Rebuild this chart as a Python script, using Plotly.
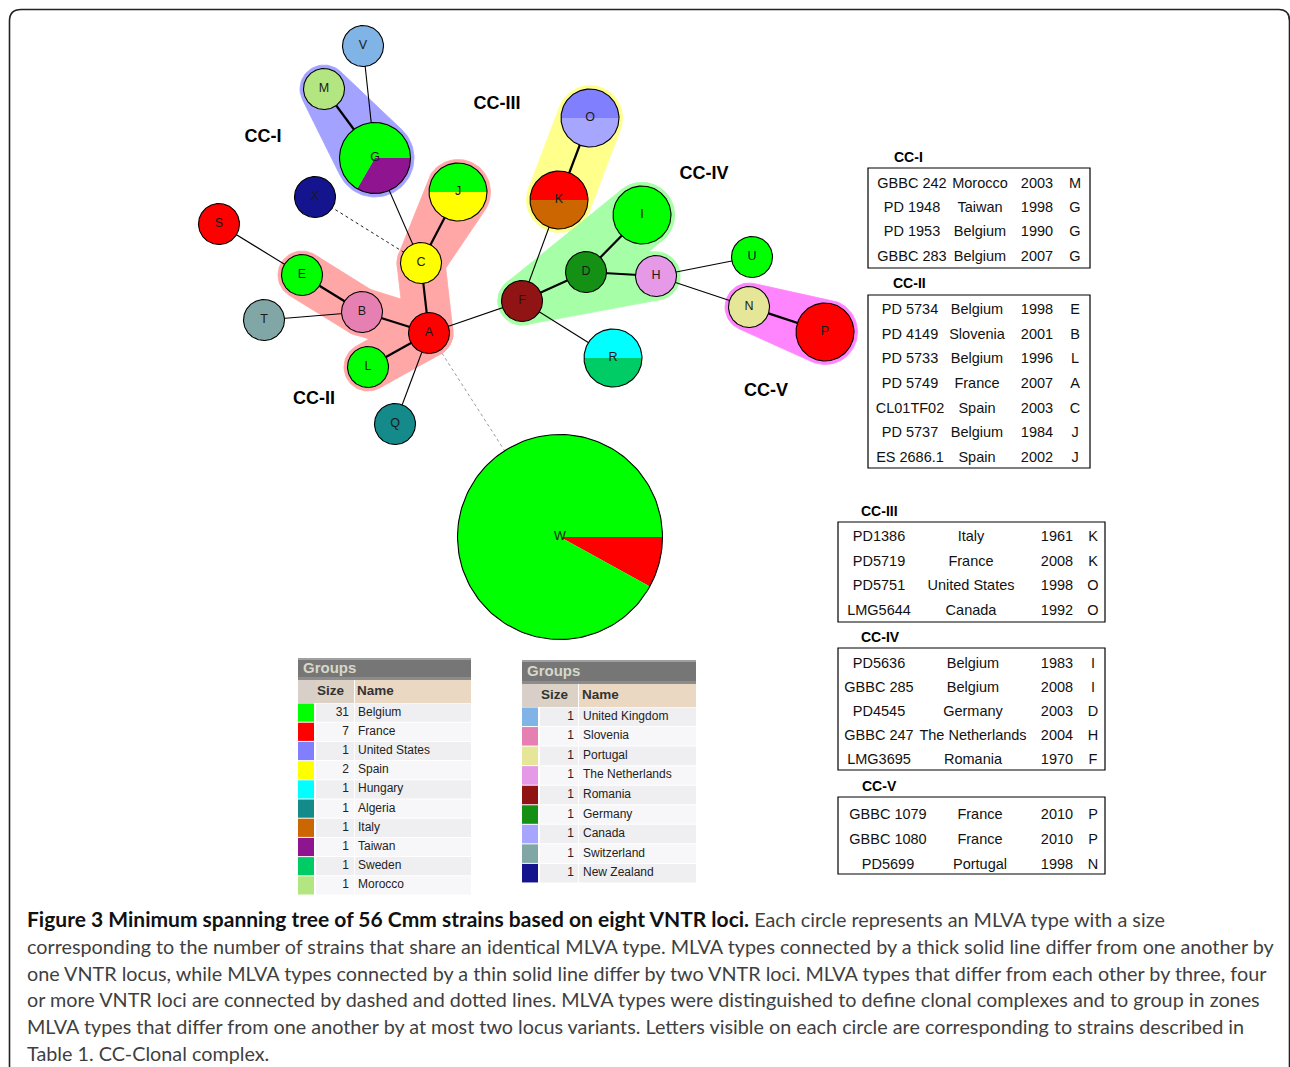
import math
import plotly.graph_objects as go

# ---------------- data ----------------
node_names = ["V", "M", "G", "X", "S", "J", "C", "E", "B", "T", "A", "L", "Q",
              "F", "K", "O", "I", "D", "H", "U", "N", "P", "R", "W"]
node_layout_x = [363, 324, 375, 315, 219, 458, 421, 302, 362, 264, 429, 368, 395,
                 522, 559, 590, 642, 586, 656, 752, 749, 825, 613, 560]
node_layout_y = [46, 89, 158, 197, 224, 192, 263, 275, 312, 320, 333, 367, 424,
                 301, 200, 118, 215, 272, 276, 257, 307, 332, 358, 537]

slice_node = ["V", "M", "G", "G", "X", "S", "J", "J", "C", "E", "B", "T", "A", "L", "Q",
              "F", "K", "K", "O", "O", "I", "D", "H", "U", "N", "P", "R", "R", "W", "W"]
slice_country = ["United Kingdom", "Morocco", "Taiwan", "Belgium", "New Zealand", "France",
                 "Spain", "Belgium", "Spain", "Belgium", "Slovenia", "Switzerland", "France",
                 "Belgium", "Algeria", "Romania", "Italy", "France", "Canada", "United States",
                 "Belgium", "Germany", "The Netherlands", "Belgium", "Portugal", "France",
                 "Sweden", "Hungary", "France", "Belgium"]
slice_count = [1, 1, 1, 2, 1, 1, 1, 1, 1, 1, 1, 1, 1, 1, 1,
               1, 1, 1, 1, 1, 2, 1, 1, 1, 1, 2, 1, 1, 2, 23]

edge_from = ["V", "M", "G", "X", "J", "C", "S", "E", "T", "B", "L", "Q",
             "A", "A", "F", "K", "F", "D", "D", "F", "H", "H", "N"]
edge_to = ["G", "G", "C", "C", "C", "A", "E", "B", "B", "A", "A", "A",
           "F", "W", "K", "O", "D", "I", "H", "R", "U", "N", "P"]
edge_diff = [2, 1, 2, 3, 1, 1, 2, 1, 2, 1, 1, 2,
             2, 4, 2, 1, 1, 1, 1, 2, 2, 2, 1]

cc_names = ["CC-I", "CC-II", "CC-III", "CC-IV", "CC-V"]
halo_from = ["M", "J", "C", "E", "B", "L", "K", "F", "D", "D", "F", "F", "N"]
halo_to = ["G", "C", "A", "B", "A", "A", "O", "D", "I", "H", "I", "H", "P"]
halo_cc = ["CC-I", "CC-II", "CC-II", "CC-II", "CC-II", "CC-II", "CC-III",
           "CC-IV", "CC-IV", "CC-IV", "CC-IV", "CC-IV", "CC-V"]

strain_id = ["GBBC 242", "PD 1948", "PD 1953", "GBBC 283",
             "PD 5734", "PD 4149", "PD 5733", "PD 5749", "CL01TF02", "PD 5737", "ES 2686.1",
             "PD1386", "PD5719", "PD5751", "LMG5644",
             "PD5636", "GBBC 285", "PD4545", "GBBC 247", "LMG3695",
             "GBBC 1079", "GBBC 1080", "PD5699"]
strain_country = ["Morocco", "Taiwan", "Belgium", "Belgium",
                  "Belgium", "Slovenia", "Belgium", "France", "Spain", "Belgium", "Spain",
                  "Italy", "France", "United States", "Canada",
                  "Belgium", "Belgium", "Germany", "The Netherlands", "Romania",
                  "France", "France", "Portugal"]
strain_year = [2003, 1998, 1990, 2007,
               1998, 2001, 1996, 2007, 2003, 1984, 2002,
               1961, 2008, 1998, 1992,
               1983, 2008, 2003, 2004, 1970,
               2010, 2010, 1998]
strain_letter = ["M", "G", "G", "G",
                 "E", "B", "L", "A", "C", "J", "J",
                 "K", "K", "O", "O",
                 "I", "I", "D", "H", "F",
                 "P", "P", "N"]
strain_cc = ["CC-I"] * 4 + ["CC-II"] * 7 + ["CC-III"] * 4 + ["CC-IV"] * 5 + ["CC-V"] * 3

legend_left_names = ["Belgium", "France", "United States", "Spain", "Hungary",
                     "Algeria", "Italy", "Taiwan", "Sweden", "Morocco"]
legend_left_sizes = [31, 7, 1, 2, 1, 1, 1, 1, 1, 1]
legend_right_names = ["United Kingdom", "Slovenia", "Portugal", "The Netherlands", "Romania",
                      "Germany", "Canada", "Switzerland", "New Zealand"]
legend_right_sizes = [1, 1, 1, 1, 1, 1, 1, 1, 1]

caption_title = "Figure 3 Minimum spanning tree of 56 Cmm strains based on eight VNTR loci."
caption_lines = [
    " Each circle represents an MLVA type with a size",
    "corresponding to the number of strains that share an identical MLVA type. MLVA types connected by a thick solid line differ from one another by",
    "one VNTR locus, while MLVA types connected by a thin solid line differ by two VNTR loci. MLVA types that differ from each other by three, four",
    "or more VNTR loci are connected by dashed and dotted lines. MLVA types were distinguished to define clonal complexes and to group in zones",
    "MLVA types that differ from one another by at most two locus variants. Letters visible on each circle are corresponding to strains described in",
    "Table 1. CC-Clonal complex.",
]

# ---------------- styles / layout ----------------
W, H = 1290, 1067
SANS = "Liberation Sans, Arial, Helvetica, sans-serif"
CAPTION_FONT = "Lato, Open Sans, sans-serif"

country_colors = {
    "Belgium": "#00ff00", "France": "#ff0000", "United States": "#8080ff", "Spain": "#ffff00",
    "Hungary": "#00ffff", "Algeria": "#148a8a", "Italy": "#cc6600", "Taiwan": "#8f1490",
    "Sweden": "#00cc66", "Morocco": "#b3e680", "United Kingdom": "#80b3e6",
    "Slovenia": "#e680b3", "Portugal": "#e6e699", "The Netherlands": "#e699e6",
    "Romania": "#901414", "Germany": "#149014", "Canada": "#a6a6ff",
    "Switzerland": "#80a6a6", "New Zealand": "#14148f",
}
halo_colors = {"CC-I": "#a3a3ff", "CC-II": "#ffa6a6", "CC-III": "#ffff8c",
               "CC-IV": "#a6ffa6", "CC-V": "#ff85ff"}
cc_label_pos = {"CC-I": (263, 137), "CC-II": (314, 399), "CC-III": (497, 104),
                "CC-IV": (704, 174), "CC-V": (766, 391)}
BASE_R = 20.5
HALO_PAD = 3.5

# table geometry: box, title pos, column centers, first row y, row step
table_geom = {
    "CC-I": dict(x0=868, x1=1090, y0=168, y1=268, tx=894, ty=158,
                 cols=[912, 980, 1037, 1075], r0=184, dr=24.3),
    "CC-II": dict(x0=868, x1=1090, y0=295, y1=468, tx=893, ty=284,
                  cols=[910, 977, 1037, 1075], r0=310.5, dr=24.6),
    "CC-III": dict(x0=838, x1=1105, y0=522, y1=622, tx=861, ty=512,
                   cols=[879, 971, 1057, 1093], r0=537.5, dr=24.6),
    "CC-IV": dict(x0=838, x1=1105, y0=648, y1=770, tx=861, ty=638,
                  cols=[879, 973, 1057, 1093], r0=664, dr=24.2),
    "CC-V": dict(x0=838, x1=1105, y0=797, y1=874, tx=862, ty=787,
                 cols=[888, 980, 1057, 1093], r0=815, dr=25),
}

legend_geom = [
    dict(names=legend_left_names, sizes=legend_left_sizes, x0=298, x1=471, ty0=658, ty1=680,
         hy1=703, rh=19.2, sw1=314, sx0=316, sx1=354, stx=349, ntx=358),
    dict(names=legend_right_names, sizes=legend_right_sizes, x0=522, x1=696, ty0=660, ty1=684,
         hy1=707, rh=19.55, sw1=538, sx0=540, sx1=578, stx=574, ntx=583),
]

# ---------------- helpers ----------------
pos = {n: (x, y) for n, x, y in zip(node_names, node_layout_x, node_layout_y)}
totals = {n: 0 for n in node_names}
for n, c in zip(slice_node, slice_count):
    totals[n] += c
radius = {n: BASE_R * math.sqrt(totals[n]) for n in node_names}


def arc(cx, cy, r, a0, a1, step=3.0):
    n = max(2, int(abs(a1 - a0) / step) + 1)
    pts = []
    for i in range(n + 1):
        a = math.radians(a0 + (a1 - a0) * i / n)
        pts.append((cx + r * math.cos(a), cy + r * math.sin(a)))
    return pts


def convex_hull(points):
    pts = sorted(set(points))
    if len(pts) <= 2:
        return pts

    def cross(o, a, b):
        return (a[0] - o[0]) * (b[1] - o[1]) - (a[1] - o[1]) * (b[0] - o[0])
    lower, upper = [], []
    for p in pts:
        while len(lower) >= 2 and cross(lower[-2], lower[-1], p) <= 0:
            lower.pop()
        lower.append(p)
    for p in reversed(pts):
        while len(upper) >= 2 and cross(upper[-2], upper[-1], p) <= 0:
            upper.pop()
        upper.append(p)
    return lower[:-1] + upper[:-1]


def rect(x0, x1, y0, y1, color, layer="below"):
    return dict(type="rect", xref="x", yref="y", x0=x0, x1=x1, y0=y0, y1=y1,
                line=dict(width=0), fillcolor=color, layer=layer)


fig = go.Figure()

# halos (clonal complex zones)
for a, b, cc in zip(halo_from, halo_to, halo_cc):
    pts = arc(*pos[a], radius[a] + HALO_PAD, 0, 360, 4) + arc(*pos[b], radius[b] + HALO_PAD, 0, 360, 4)
    hull = convex_hull([(round(x, 3), round(y, 3)) for x, y in pts])
    hull.append(hull[0])
    fig.add_trace(go.Scatter(x=[p[0] for p in hull], y=[p[1] for p in hull], mode="lines",
                             fill="toself", fillcolor=halo_colors[cc],
                             line=dict(width=0.8, color=halo_colors[cc]), hoverinfo="skip"))

# edges
edge_styles = {1: dict(color="#000000", width=2.2),
               2: dict(color="#000000", width=1.1),
               3: dict(color="#222222", width=1.0, dash="dot"),
               4: dict(color="#9a9a9a", width=1.0, dash="dot")}
for d, style in edge_styles.items():
    xs, ys = [], []
    for a, b, dd in zip(edge_from, edge_to, edge_diff):
        if dd == d:
            xs += [pos[a][0], pos[b][0], None]
            ys += [pos[a][1], pos[b][1], None]
    fig.add_trace(go.Scatter(x=xs, y=ys, mode="lines", line=style, hoverinfo="skip"))

# nodes as pies: slices clockwise from 3 o'clock
for n in node_names:
    cx, cy = pos[n]
    r = radius[n]
    start = 0.0
    for sn, sc, cnt in zip(slice_node, slice_country, slice_count):
        if sn != n:
            continue
        span = 360.0 * cnt / totals[n]
        pts = [(cx, cy)] + arc(cx, cy, r, start, start + span, 2) + [(cx, cy)]
        fig.add_trace(go.Scatter(x=[p[0] for p in pts], y=[p[1] for p in pts], mode="lines",
                                 fill="toself", fillcolor=country_colors[sc],
                                 line=dict(width=0), hoverinfo="skip"))
        start += span
    ring = arc(cx, cy, r, 0, 360, 2)
    fig.add_trace(go.Scatter(x=[p[0] for p in ring], y=[p[1] for p in ring], mode="lines",
                             line=dict(color="#000000", width=1.1), hoverinfo="skip"))

fig.add_trace(go.Scatter(x=node_layout_x, y=node_layout_y, mode="text", text=node_names,
                         textposition="middle center",
                         textfont=dict(family=SANS, size=12.5, color="#1a1a1a"), hoverinfo="skip"))

# clonal complex labels
fig.add_trace(go.Scatter(x=[cc_label_pos[c][0] for c in cc_names],
                         y=[cc_label_pos[c][1] for c in cc_names], mode="text",
                         text=["<b>%s</b>" % c for c in cc_names], textposition="middle center",
                         textfont=dict(family=SANS, size=18, color="#000000"), hoverinfo="skip"))

# strain tables
shapes = []
for cc in cc_names:
    g = table_geom[cc]
    shapes.append(dict(type="rect", xref="x", yref="y", x0=g["x0"], x1=g["x1"], y0=g["y0"],
                       y1=g["y1"], line=dict(color="#000000", width=1.2)))
    rows = [i for i, c in enumerate(strain_cc) if c == cc]
    tx, ty, tt = [], [], []
    for k, i in enumerate(rows):
        yy = g["r0"] + k * g["dr"]
        vals = [strain_id[i], strain_country[i], str(strain_year[i]), strain_letter[i]]
        for cx, v in zip(g["cols"], vals):
            tx.append(cx)
            ty.append(yy)
            tt.append(v)
    fig.add_trace(go.Scatter(x=tx, y=ty, text=tt, mode="text", textposition="middle center",
                             textfont=dict(family=SANS, size=14.5, color="#111111"),
                             hoverinfo="skip"))
    fig.add_trace(go.Scatter(x=[g["tx"]], y=[g["ty"]], text=["<b>%s</b>" % cc], mode="text",
                             textposition="middle right",
                             textfont=dict(family=SANS, size=14, color="#000000"),
                             hoverinfo="skip"))

# group legends (software screenshots)
for g in legend_geom:
    shapes.append(rect(g["x0"], g["x1"], g["ty0"], g["ty1"], "#767676"))
    shapes.append(rect(g["x0"], g["x1"], g["ty0"], g["ty0"] + 2, "#a0a0a0"))
    shapes.append(rect(g["x0"], g["x1"], g["ty1"] - 3, g["ty1"], "#8c8c8c"))
    shapes.append(rect(g["x0"], g["sx0"], g["ty1"], g["hy1"], "#d8d0c8"))
    shapes.append(rect(g["sx0"], g["sx1"], g["ty1"], g["hy1"], "#dcd1c5"))
    shapes.append(rect(g["sx1"] + 1, g["x1"], g["ty1"], g["hy1"], "#ead8c3"))
    lx, ly, lt, rx, ry, rt = [], [], [], [], [], []
    for i, (nm, sz) in enumerate(zip(g["names"], g["sizes"])):
        y0 = g["hy1"] + i * g["rh"]
        y1 = y0 + g["rh"]
        bg = "#efeff2" if i % 2 == 0 else "#f7f7f9"
        shapes.append(rect(g["x0"], g["sw1"], y0 + 0.5, y1 - 0.5, country_colors[nm]))
        shapes.append(rect(g["sx0"], g["sx1"], y0 + 0.5, y1 - 0.5, bg))
        shapes.append(rect(g["sx1"] + 1, g["x1"], y0 + 0.5, y1 - 0.5, bg))
        rx.append(g["stx"])
        ry.append((y0 + y1) / 2)
        rt.append(str(sz))
        lx.append(g["ntx"])
        ly.append((y0 + y1) / 2)
        lt.append(nm)
    fig.add_trace(go.Scatter(x=rx, y=ry, text=rt, mode="text", textposition="middle left",
                             textfont=dict(family=SANS, size=12, color="#222222"), hoverinfo="skip"))
    fig.add_trace(go.Scatter(x=lx, y=ly, text=lt, mode="text", textposition="middle right",
                             textfont=dict(family=SANS, size=12, color="#222222"), hoverinfo="skip"))
    hy = (g["ty1"] + g["hy1"]) / 2
    fig.add_trace(go.Scatter(x=[g["x0"] + 5, g["sx0"] + 1, g["ntx"] - 1],
                             y=[(g["ty0"] + g["ty1"]) / 2, hy, hy],
                             text=["<b>Groups</b>", "<b>Size</b>", "<b>Name</b>"], mode="text",
                             textposition="middle right",
                             textfont=dict(family=SANS, size=[15, 13.5, 13.5],
                                           color=["#d8d8c8", "#333333", "#333333"]),
                             hoverinfo="skip"))

# frame
shapes.append(dict(type="path", xref="x", yref="y",
                   path="M 9.5,1080 L 9.5,21 Q 9.5,9.5 21,9.5 L 1279,9.5 Q 1289.5,9.5 1289.5,21 L 1289.5,1080",
                   line=dict(color="#222222", width=1.6)))

annotations = []
caption_y = [918, 946, 972.5, 999, 1026, 1053]
for k, (line, yy) in enumerate(zip(caption_lines, caption_y)):
    if k == 0:
        txt = ("<span style='font-size:21px;color:#111111'><b>%s</b></span>%s"
               % (caption_title, line))
    else:
        txt = line
    annotations.append(dict(x=25, y=yy, xref="x", yref="y", xanchor="left", yanchor="middle",
                            text=txt, showarrow=False,
                            font=dict(family=CAPTION_FONT, size=19.8, color="#3f3f3f")))

fig.update_layout(
    width=W, height=H, margin=dict(l=0, r=0, t=0, b=0),
    paper_bgcolor="#ffffff", plot_bgcolor="#ffffff", showlegend=False,
    xaxis=dict(range=[0, W], visible=False, fixedrange=True),
    yaxis=dict(range=[H, 0], visible=False, fixedrange=True),
    shapes=shapes, annotations=annotations,
)

fig.write_html("out.html", config={"displayModeBar": False},
               post_script="document.body.style.margin='0px';")
